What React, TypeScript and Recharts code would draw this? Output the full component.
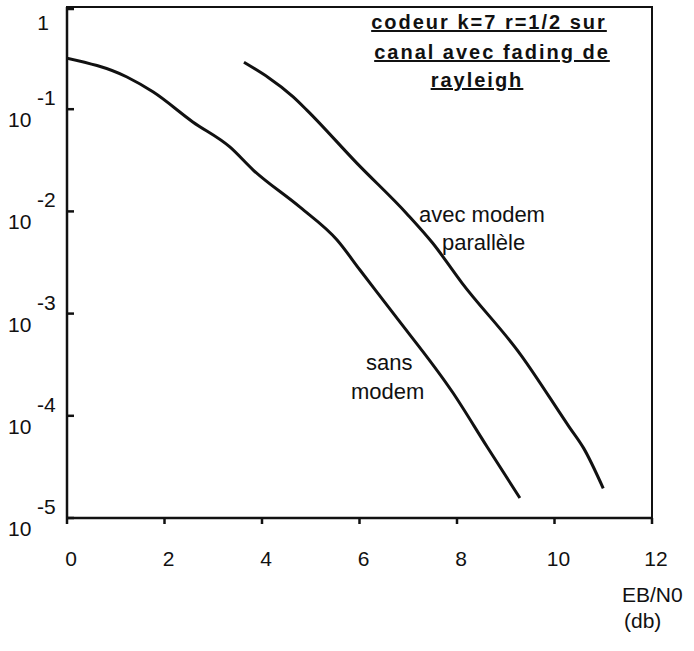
import React from "react";
import { LineChart, Line, XAxis, YAxis, ReferenceArea } from "recharts";

// EB/N0 (dB) and bit error rate
const sansModemEb = [0, 1.23, 1.77, 2.58, 3.34, 3.82, 4.78, 5.54, 6.01, 6.69, 7.92, 8.62, 9.29];
const sansModemBer = [
  0.316, 0.2065, 0.147, 0.075, 0.0427, 0.0254, 0.011, 0.00525, 0.00267,
  0.00101, 0.000167, 0.0000495, 0.0000157,
];

const avecModemEb = [3.63, 4.64, 4.92, 5.95, 6.97, 7.5, 8.1, 9.3, 10.3, 10.6, 11.0];
const avecModemBer = [
  0.288, 0.132, 0.098, 0.0295, 0.0095, 0.0049, 0.002, 0.0004, 0.000078,
  0.000048, 0.0000195,
];

const xTicks = [0, 2, 4, 6, 8, 10, 12];
const yTicks = [1e-5, 1e-4, 1e-3, 1e-2, 1e-1, 1];

const titleLines = ["codeur k=7 r=1/2 sur", "canal avec fading de", "rayleigh"];

const FONT = "'Liberation Sans', Arial, Helvetica, sans-serif";
const INK = "#111";

const sansData = sansModemEb.map((x, i) => ({ x, y: sansModemBer[i] }));
const avecData = avecModemEb.map((x, i) => ({ x, y: avecModemBer[i] }));

const YTick = (props: any) => {
  const { x, y, payload } = props;
  const exp = Math.round(Math.log10(payload.value));
  return (
    <g fontFamily={FONT} fontSize={21} fill={INK}>
      <line x1={x} x2={x + 7} y1={y} y2={y} stroke={INK} strokeWidth={2.5} />
      {exp === 0 ? (
        <text x={x - 24} y={y + 21} textAnchor="middle">
          1
        </text>
      ) : (
        <>
          <text x={x - 59} y={y + 18}>
            10
          </text>
          <text x={x - 30} y={y - 4}>
            {`${exp}`}
          </text>
        </>
      )}
    </g>
  );
};

const XTick = (props: any) => {
  const { x, y, payload } = props;
  return (
    <g>
      <line x1={x} x2={x} y1={y} y2={y + 6} stroke={INK} strokeWidth={2.5} />
      <text
        x={x + 4}
        y={y + 48}
        textAnchor="middle"
        fontFamily={FONT}
        fontSize={21}
        fill={INK}
      >
        {payload.value}
      </text>
    </g>
  );
};

export default function App() {
  return (
    <div style={{ position: "absolute", left: 0, top: 0, width: 694, height: 651, background: "#fff" }}>
      <LineChart
        width={694}
        height={651}
        margin={{ top: 7, right: 42, bottom: 93, left: 7 }}
      >
        <XAxis
          type="number"
          dataKey="x"
          domain={[0, 12]}
          ticks={xTicks}
          allowDataOverflow
          height={40}
          tickSize={0}
          tickMargin={0}
          tickLine={false}
          axisLine={{ stroke: INK, strokeWidth: 2.5 }}
          tick={<XTick />}
        />
        <YAxis
          type="number"
          scale="log"
          domain={[1e-5, 1]}
          ticks={yTicks}
          allowDataOverflow
          width={60}
          tickSize={0}
          tickMargin={0}
          tickLine={false}
          axisLine={{ stroke: INK, strokeWidth: 2.5 }}
          tick={<YTick />}
        />
        <ReferenceArea
          x1={0}
          x2={12}
          y1={1e-5}
          y2={1}
          fill="none"
          stroke={INK}
          strokeWidth={2}
        />
        <Line
          data={sansData}
          dataKey="y"
          type="monotoneX"
          stroke={INK}
          strokeWidth={3}
          dot={false}
          isAnimationActive={false}
        />
        <Line
          data={avecData}
          dataKey="y"
          type="monotoneX"
          stroke={INK}
          strokeWidth={3}
          dot={false}
          isAnimationActive={false}
        />
        <g fontFamily={FONT} fill={INK}>
          <text x={489} y={29} textAnchor="middle" fontSize={20} fontWeight="bold" letterSpacing={2} textDecoration="underline">
            {titleLines[0]}
          </text>
          <text x={492} y={59} textAnchor="middle" fontSize={20} fontWeight="bold" letterSpacing={2} textDecoration="underline">
            {titleLines[1]}
          </text>
          <text x={477} y={87} textAnchor="middle" fontSize={20} fontWeight="bold" letterSpacing={2} textDecoration="underline">
            {titleLines[2]}
          </text>
          <text x={419} y={222} fontSize={22}>avec modem</text>
          <text x={442} y={250} fontSize={22}>parallèle</text>
          <text x={366} y={370} fontSize={22}>sans</text>
          <text x={351} y={399} fontSize={22}>modem</text>
          <text x={622} y={602} fontSize={21}>EB/N0</text>
          <text x={624} y={628} fontSize={21}>(db)</text>
        </g>
      </LineChart>
    </div>
  );
}
